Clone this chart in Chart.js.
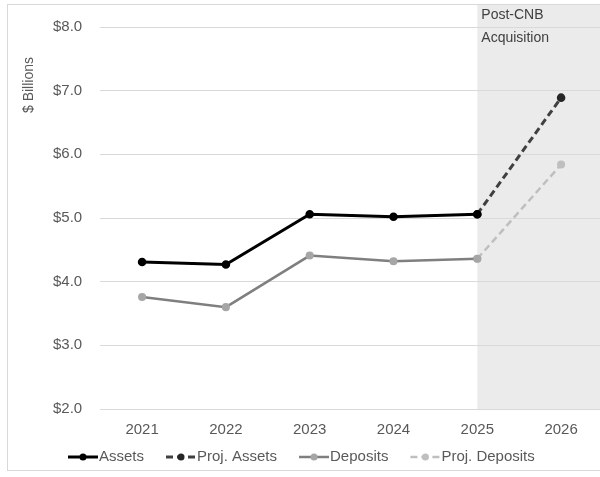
<!DOCTYPE html>
<html>
<head>
<meta charset="utf-8">
<script src="https://cdn.jsdelivr.net/npm/chart.js@4.4.1/dist/chart.umd.min.js"></script>
<style>
  html, body { margin: 0; padding: 0; background: #fff; overflow: hidden; }
  #wrap { position: relative; width: 600px; height: 477px; overflow: hidden; }
  #frame { position: absolute; left: 7px; top: 4px; width: 640px; height: 465px; border: 1px solid #d9d9d9; }
  #chart { position: absolute; left: 0; top: 0; }
</style>
</head>
<body>
<div id="wrap">
  <div id="frame"></div>
  <canvas id="chart" width="610" height="477"></canvas>
</div>
<script>
const years = ["2021", "2022", "2023", "2024", "2025", "2026"];
const assets = [4.31, 4.27, 5.06, 5.02, 5.06, null];
const projAssets = [null, null, null, null, 5.06, 6.89];
const deposits = [3.76, 3.60, 4.41, 4.32, 4.36, null];
const projDeposits = [null, null, null, null, 4.36, 5.84];
const shadeFrom = "2025";
const noteLines = ["Post-CNB", "Acquisition"];
const yTitle = "$ Billions";

const font = "'Liberation Sans', Arial, sans-serif";
const textColor = "#595959";

// grey band + note + axis title + legend drawn by hand
const extras = {
  id: "extras",
  beforeDraw(chart) {
    const ctx = chart.ctx;
    const x0 = chart.scales.x.getPixelForValue(years.indexOf(shadeFrom));
    const area = chart.chartArea;
    ctx.save();
    ctx.fillStyle = "#ebebeb";
    ctx.fillRect(x0, 5, chart.width - x0, area.bottom - 5);
    ctx.restore();
  },
  afterDraw(chart) {
    const ctx = chart.ctx;
    const x0 = chart.scales.x.getPixelForValue(years.indexOf(shadeFrom));
    ctx.save();
    ctx.fillStyle = "#404040";
    ctx.font = "14px " + font;
    ctx.textBaseline = "middle";
    noteLines.forEach((t, i) => ctx.fillText(t, x0 + 4, 15 + i * 23));

    ctx.fillStyle = textColor;
    ctx.translate(29, 85);
    ctx.rotate(-Math.PI / 2);
    ctx.textAlign = "center";
    ctx.fillText(yTitle, 0, 0);
    ctx.restore();

    // legend
    ctx.save();
    ctx.font = "15px " + font;
    ctx.textBaseline = "middle";
    const y = 457;
    let x = 68;
    chart.data.datasets.forEach(ds => {
      ctx.strokeStyle = ds.borderColor;
      ctx.lineWidth = ds.borderWidth;
      ctx.setLineDash(ds.borderDash || []);
      ctx.beginPath();
      ctx.moveTo(x, y);
      ctx.lineTo(x + 30, y);
      ctx.stroke();
      ctx.setLineDash([]);
      ctx.fillStyle = ds.pointBackgroundColor;
      ctx.beginPath();
      ctx.arc(x + 15, y, 3.5, 0, Math.PI * 2);
      ctx.fill();
      ctx.fillStyle = textColor;
      ctx.fillText(ds.label, x + 31, y);
      x += 31 + ctx.measureText(ds.label).width + 22;
    });
    ctx.restore();
  }
};

new Chart(document.querySelector("#chart"), {
  type: "line",
  data: {
    labels: years,
    datasets: [
      {
        label: "Assets",
        data: assets,
        borderColor: "#000000",
        pointBackgroundColor: "#000000",
        pointBorderColor: "#000000",
        borderWidth: 3,
        order: 1
      },
      {
        label: "Proj. Assets",
        data: projAssets,
        borderColor: "#404040",
        pointBackgroundColor: "#262626",
        pointBorderColor: "#262626",
        borderDash: [7, 4],
        borderWidth: 3,
        order: 2
      },
      {
        label: "Deposits",
        data: deposits,
        borderColor: "#7f7f7f",
        pointBackgroundColor: "#a6a6a6",
        pointBorderColor: "#a6a6a6",
        borderWidth: 2.5,
        order: 3
      },
      {
        label: "Proj. Deposits",
        data: projDeposits,
        borderColor: "#bfbfbf",
        pointBackgroundColor: "#bfbfbf",
        pointBorderColor: "#bfbfbf",
        borderDash: [7, 4],
        borderWidth: 2.5,
        order: 4
      }
    ]
  },
  options: {
    responsive: false,
    animation: false,
    elements: { point: { radius: 2.8, borderWidth: 1 } },
    layout: { padding: { left: 35, right: 0, top: 14, bottom: 26 } },
    plugins: {
      legend: { display: false },
      tooltip: { enabled: false }
    },
    scales: {
      x: {
        offset: true,
        grid: { display: false, drawTicks: false },
        border: { display: false },
        ticks: { color: textColor, font: { family: font, size: 15 }, padding: 12 }
      },
      y: {
        min: 2,
        max: 8,
        grid: { color: "#d9d9d9", lineWidth: 1, drawTicks: false },
        border: { display: false },
        ticks: {
          stepSize: 1,
          color: textColor,
          font: { family: font, size: 15 },
          padding: 18,
          callback: v => "$" + v.toFixed(1)
        }
      }
    }
  },
  plugins: [extras]
});
</script>
</body>
</html>
